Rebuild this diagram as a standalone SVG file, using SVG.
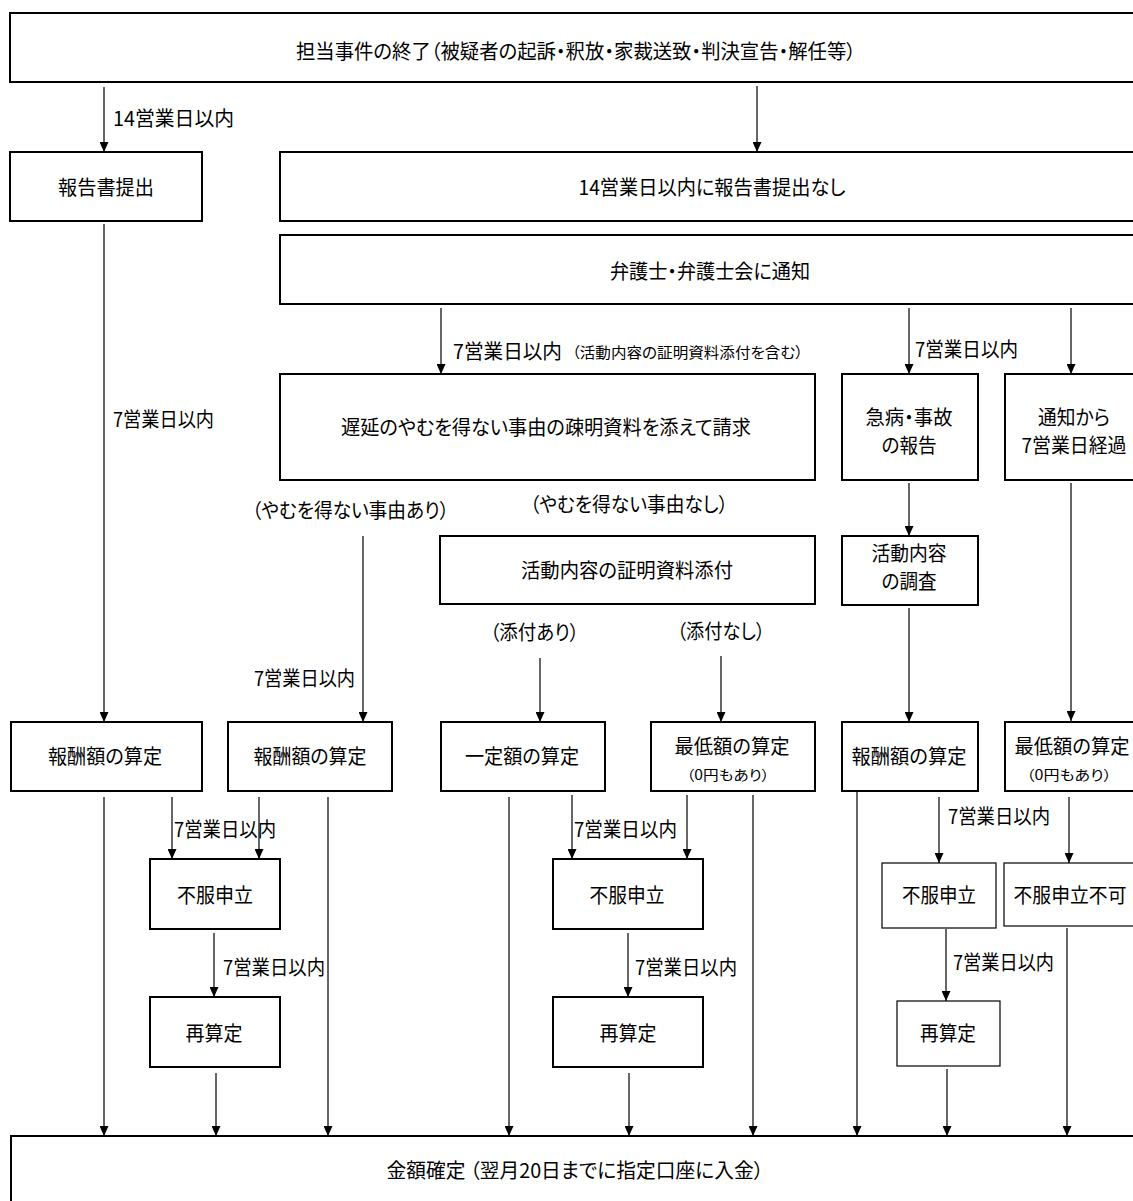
<svg xmlns="http://www.w3.org/2000/svg" width="1133" height="1201" viewBox="0 0 1133 1201">
<style>
  .bg { fill: #ffffff; }
  .box { fill: #ffffff; stroke: #000000; stroke-width: 2; }
  .thin { fill: #ffffff; stroke: #000000; stroke-width: 1.2; }
  .c { fill: none; stroke: #000000; stroke-width: 1.2; marker-end: url(#ah); }
  text { font-family: "Noto Sans CJK JP", "Noto Sans CJK SC", sans-serif; font-size: 20px; fill: #000000; font-feature-settings: "palt" 1; }
  .m { text-anchor: middle; }
  .s { font-size: 15px; }
  .xs { font-size: 14px; }
</style>
<defs>
  <marker id="ah" markerUnits="userSpaceOnUse" markerWidth="10" markerHeight="9" refX="10" refY="4.5" orient="auto">
    <path d="M0,0 L10,4.5 L0,9 Z" fill="#000000"/>
  </marker>
</defs>
<rect class="bg" x="0" y="0" width="1133" height="1201"/>

<g id="connectors">
  <line class="c" x1="104" y1="87" x2="104" y2="152"/>
  <line class="c" x1="757" y1="86" x2="757" y2="152"/>
  <line class="c" x1="104" y1="224" x2="104" y2="722"/>
  <line class="c" x1="441" y1="308" x2="441" y2="374"/>
  <line class="c" x1="909" y1="308" x2="909" y2="374"/>
  <line class="c" x1="1071" y1="308" x2="1071" y2="374"/>
  <line class="c" x1="909" y1="483" x2="909" y2="536"/>
  <line class="c" x1="363" y1="536" x2="363" y2="722"/>
  <line class="c" x1="540" y1="658" x2="540" y2="722"/>
  <line class="c" x1="721" y1="656" x2="721" y2="722"/>
  <line class="c" x1="909" y1="608" x2="909" y2="722"/>
  <line class="c" x1="1071" y1="483" x2="1071" y2="721"/>
  <line class="c" x1="104" y1="797" x2="104" y2="1136"/>
  <line class="c" x1="172" y1="797" x2="172" y2="859"/>
  <line class="c" x1="259" y1="797" x2="259" y2="859"/>
  <line class="c" x1="328" y1="797" x2="328" y2="1136"/>
  <line class="c" x1="214" y1="933" x2="214" y2="997"/>
  <line class="c" x1="216" y1="1073" x2="216" y2="1136"/>
  <line class="c" x1="509" y1="797" x2="509" y2="1136"/>
  <line class="c" x1="572" y1="795" x2="572" y2="859"/>
  <line class="c" x1="687" y1="795" x2="687" y2="859"/>
  <line class="c" x1="753" y1="795" x2="753" y2="1136"/>
  <line class="c" x1="628" y1="933" x2="628" y2="997"/>
  <line class="c" x1="629" y1="1073" x2="629" y2="1136"/>
  <line class="c" x1="857" y1="792" x2="857" y2="1136"/>
  <line class="c" x1="939" y1="797" x2="939" y2="863"/>
  <line class="c" x1="1069" y1="797" x2="1069" y2="863"/>
  <line class="c" x1="946" y1="929" x2="946" y2="1001"/>
  <line class="c" x1="947" y1="1069" x2="947" y2="1136"/>
  <line class="c" x1="1067" y1="928" x2="1067" y2="1136"/>
</g>

<g id="labels">
  <text x="113" y="126" textLength="121" lengthAdjust="spacingAndGlyphs">14営業日以内</text>
  <text x="113" y="427" textLength="101" lengthAdjust="spacingAndGlyphs">7営業日以内</text>
  <text x="453" y="359" textLength="109" lengthAdjust="spacingAndGlyphs">7営業日以内</text>
  <text class="s" x="572" y="358" textLength="231" lengthAdjust="spacingAndGlyphs">（活動内容の証明資料添付を含む）</text>
  <text x="915" y="357" textLength="103" lengthAdjust="spacingAndGlyphs">7営業日以内</text>
  <text x="252" y="518" textLength="197" lengthAdjust="spacingAndGlyphs">（やむを得ない事由あり）</text>
  <text x="530" y="512" textLength="198" lengthAdjust="spacingAndGlyphs">（やむを得ない事由なし）</text>
  <text x="490" y="640" textLength="89" lengthAdjust="spacingAndGlyphs">（添付あり）</text>
  <text x="677" y="639" textLength="88" lengthAdjust="spacingAndGlyphs">（添付なし）</text>
  <text x="254" y="686" textLength="101" lengthAdjust="spacingAndGlyphs">7営業日以内</text>
  <text x="174" y="837" textLength="102" lengthAdjust="spacingAndGlyphs">7営業日以内</text>
  <text x="574" y="837" textLength="103" lengthAdjust="spacingAndGlyphs">7営業日以内</text>
  <text x="948" y="824" textLength="102" lengthAdjust="spacingAndGlyphs">7営業日以内</text>
  <text x="223" y="975" textLength="102" lengthAdjust="spacingAndGlyphs">7営業日以内</text>
  <text x="635" y="975" textLength="102" lengthAdjust="spacingAndGlyphs">7営業日以内</text>
  <text x="953" y="970" textLength="101" lengthAdjust="spacingAndGlyphs">7営業日以内</text>
</g>

<g id="n-end">
  <rect class="box" x="10" y="13" width="1140" height="69"/>
  <text class="m" x="576" y="59" textLength="560" lengthAdjust="spacingAndGlyphs">担当事件の終了（被疑者の起訴・釈放・家裁送致・判決宣告・解任等）</text>
</g>
<g id="n-report">
  <rect class="box" x="10" y="152" width="192" height="69"/>
  <text class="m" x="106" y="195" textLength="96" lengthAdjust="spacingAndGlyphs">報告書提出</text>
</g>
<g id="n-noreport">
  <rect class="box" x="280" y="152" width="870" height="69"/>
  <text class="m" x="712" y="195" textLength="267" lengthAdjust="spacingAndGlyphs">14営業日以内に報告書提出なし</text>
</g>
<g id="n-notify">
  <rect class="box" x="280" y="235" width="870" height="69"/>
  <text class="m" x="710" y="279" textLength="200" lengthAdjust="spacingAndGlyphs">弁護士・弁護士会に通知</text>
</g>
<g id="n-delay">
  <rect class="box" x="280" y="374" width="535" height="106"/>
  <text class="m" x="546" y="435" textLength="410" lengthAdjust="spacingAndGlyphs">遅延のやむを得ない事由の疎明資料を添えて請求</text>
</g>
<g id="n-illness">
  <rect class="box" x="842" y="374" width="136" height="106"/>
  <text class="m" x="909" y="425" textLength="87" lengthAdjust="spacingAndGlyphs">急病・事故</text>
  <text class="m" x="909" y="453" textLength="55" lengthAdjust="spacingAndGlyphs">の報告</text>
</g>
<g id="n-elapsed">
  <rect class="box" x="1005" y="374" width="145" height="106"/>
  <text class="m" x="1074" y="425" textLength="72" lengthAdjust="spacingAndGlyphs">通知から</text>
  <text class="m" x="1074" y="453" textLength="105" lengthAdjust="spacingAndGlyphs">7営業日経過</text>
</g>
<g id="n-attach">
  <rect class="box" x="440" y="536" width="375" height="68"/>
  <text class="m" x="627" y="578" textLength="212" lengthAdjust="spacingAndGlyphs">活動内容の証明資料添付</text>
</g>
<g id="n-survey">
  <rect class="box" x="842" y="536" width="136" height="69"/>
  <text class="m" x="909" y="561" textLength="75" lengthAdjust="spacingAndGlyphs">活動内容</text>
  <text class="m" x="909" y="589" textLength="55" lengthAdjust="spacingAndGlyphs">の調査</text>
</g>
<g id="n-calc1">
  <rect class="box" x="11" y="722" width="191" height="69"/>
  <text class="m" x="105" y="764" textLength="114" lengthAdjust="spacingAndGlyphs">報酬額の算定</text>
</g>
<g id="n-calc2">
  <rect class="box" x="228" y="722" width="164" height="69"/>
  <text class="m" x="310" y="764" textLength="113" lengthAdjust="spacingAndGlyphs">報酬額の算定</text>
</g>
<g id="n-fixed">
  <rect class="box" x="441" y="722" width="164" height="69"/>
  <text class="m" x="522" y="764" textLength="114" lengthAdjust="spacingAndGlyphs">一定額の算定</text>
</g>
<g id="n-min1">
  <rect class="box" x="651" y="722" width="164" height="69"/>
  <text class="m" x="732" y="754" textLength="115" lengthAdjust="spacingAndGlyphs">最低額の算定</text>
  <text class="m xs" x="728" y="780" textLength="83" lengthAdjust="spacingAndGlyphs">（0円もあり）</text>
</g>
<g id="n-calc3">
  <rect class="box" x="842" y="722" width="136" height="69"/>
  <text class="m" x="909" y="764" textLength="115" lengthAdjust="spacingAndGlyphs">報酬額の算定</text>
</g>
<g id="n-min2">
  <rect class="box" x="1005" y="722" width="145" height="69"/>
  <text class="m" x="1072" y="754" textLength="115" lengthAdjust="spacingAndGlyphs">最低額の算定</text>
  <text class="m xs" x="1069" y="780" textLength="85" lengthAdjust="spacingAndGlyphs">（0円もあり）</text>
</g>
<g id="n-obj1">
  <rect class="box" x="150" y="859" width="130" height="70"/>
  <text class="m" x="215" y="903" textLength="76" lengthAdjust="spacingAndGlyphs">不服申立</text>
</g>
<g id="n-obj2">
  <rect class="box" x="553" y="859" width="150" height="70"/>
  <text class="m" x="627" y="903" textLength="75" lengthAdjust="spacingAndGlyphs">不服申立</text>
</g>
<g id="n-obj3">
  <rect class="thin" x="882" y="863" width="114" height="65"/>
  <text class="m" x="939" y="903" textLength="74" lengthAdjust="spacingAndGlyphs">不服申立</text>
</g>
<g id="n-noobj">
  <rect class="thin" x="1004" y="863" width="146" height="63"/>
  <text class="m" x="1070" y="903" textLength="113" lengthAdjust="spacingAndGlyphs">不服申立不可</text>
</g>
<g id="n-recalc1">
  <rect class="box" x="150" y="997" width="130" height="70"/>
  <text class="m" x="214" y="1041" textLength="57" lengthAdjust="spacingAndGlyphs">再算定</text>
</g>
<g id="n-recalc2">
  <rect class="box" x="553" y="997" width="150" height="70"/>
  <text class="m" x="628" y="1041" textLength="57" lengthAdjust="spacingAndGlyphs">再算定</text>
</g>
<g id="n-recalc3">
  <rect class="thin" x="897" y="1001" width="103" height="65"/>
  <text class="m" x="948" y="1041" textLength="56" lengthAdjust="spacingAndGlyphs">再算定</text>
</g>
<g id="n-final">
  <rect class="box" x="11" y="1136" width="1140" height="100"/>
  <text class="m" x="575" y="1178" textLength="377" lengthAdjust="spacingAndGlyphs">金額確定 （翌月20日までに指定口座に入金）</text>
</g>
</svg>
